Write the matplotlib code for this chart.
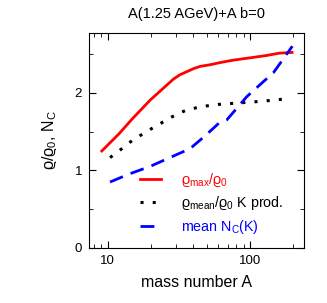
import matplotlib
matplotlib.use('Agg')
import matplotlib.pyplot as plt
from matplotlib.ticker import LogLocator, NullFormatter, FixedLocator, FixedFormatter

plt.rcParams['font.family'] = ['Liberation Sans', 'DejaVu Sans']
plt.rcParams['mathtext.default'] = 'regular'

# rho_max / rho_0
A_max = [9.1, 12, 15, 20, 25, 28.7, 32, 35.8, 40, 44.6, 52, 62, 76, 100, 130, 160, 197]
rho_max = [1.25, 1.47, 1.67, 1.91, 2.07, 2.17, 2.23, 2.27, 2.31, 2.34, 2.36, 2.39, 2.42, 2.45, 2.48, 2.51, 2.52]

# rho_mean / rho_0, K production
A_mean = [10.4, 12, 15, 20, 28.3, 35, 44.6, 60, 85, 120, 176]
rho_mean = [1.165, 1.25, 1.39, 1.53, 1.69, 1.77, 1.82, 1.85, 1.87, 1.89, 1.92]

# mean N_C(K)
A_nc = [10.4, 14, 19.8, 27, 37.9, 48, 60.5, 68.6, 94.8, 120, 146, 198]
n_c = [0.85, 0.95, 1.05, 1.16, 1.28, 1.44, 1.61, 1.65, 1.95, 2.12, 2.26, 2.6]

fig = plt.figure(figsize=(3.27, 3.03), dpi=100)
ax = fig.add_axes([89/327, 1-248/303, (304-89)/327, (248-33)/303])

ax.plot(A_max, rho_max, color='red', lw=2, label=r'$\varrho_{max}/\varrho_0$')
ax.plot(A_mean, rho_mean, color='black', lw=2.2, linestyle=(0, (1, 3)),
        label=r'$\varrho_{mean}/\varrho_0$ K prod.')
ax.plot(A_nc, n_c, color='blue', lw=2, linestyle=(0, (5, 3)), label=r'mean $N_C$(K)')

ax.set_xscale('log')
ax.set_xlim(7.4, 239)
ax.set_ylim(0, 2.77)

ax.xaxis.set_major_locator(FixedLocator([10, 100]))
ax.xaxis.set_major_formatter(FixedFormatter(['10', '100']))
ax.xaxis.set_minor_locator(LogLocator(base=10, subs=range(2, 10)))
ax.xaxis.set_minor_formatter(NullFormatter())
ax.set_yticks([0, 1, 2])
ax.set_yticklabels(['0', '1', '2'])
ax.set_yticks([0.5, 1.5, 2.5], minor=True)

ax.tick_params(which='both', direction='in', top=True, right=True, labelsize=9.5)
ax.tick_params(which='major', length=5, pad=5)
ax.tick_params(which='minor', length=3)

ax.set_xlabel('mass number A', fontsize=11.5, labelpad=6)
ax.set_ylabel(r'$\varrho/\varrho_0$, $N_C$', fontsize=11.5)
ax.yaxis.set_label_coords(-0.14, 0.5)
ax.set_title('A(1.25 AGeV)+A b=0', fontsize=10.5, pad=11)

leg = ax.legend(loc='lower left', frameon=False, fontsize=10.3, handlelength=1.45,
                handletextpad=1.4, labelspacing=0.4, borderpad=0, borderaxespad=0,
                bbox_to_anchor=(0.237, 0.055))
for text, line in zip(leg.get_texts(), leg.get_lines()):
    text.set_color(line.get_color())

fig.savefig('out.png', dpi=100)
